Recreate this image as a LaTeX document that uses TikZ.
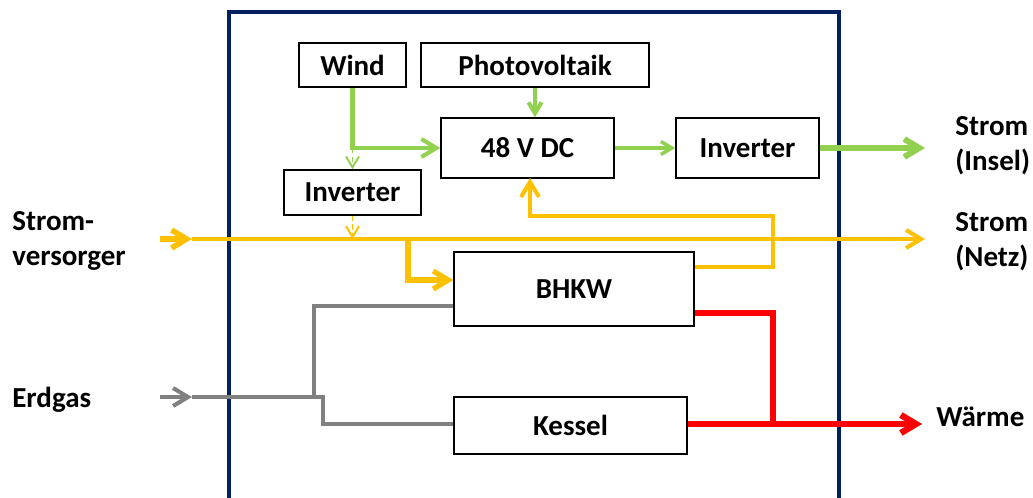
\documentclass[tikz,border=0pt]{standalone}
\usepackage{fontspec}
\setmainfont{Carlito}
\usetikzlibrary{arrows.meta}
\definecolor{frameblue}{RGB}{0,32,96}
\definecolor{elgreen}{RGB}{146,208,80}
\definecolor{elyellow}{RGB}{255,192,0}
\definecolor{heatred}{RGB}{255,0,0}
\definecolor{gasgray}{RGB}{128,128,128}

\begin{document}
\begin{tikzpicture}[x=0.02cm, y=-0.02cm,
    every node/.style={font=\fontsize{16.5}{20}\selectfont\bfseries},
    block/.style={draw=black, line width=0.8pt, inner sep=0pt, fill=white},
    label/.style={align=left, anchor=west, inner sep=0pt},
    barb/.style={-{Straight Barb[length=0.3cm, width=0.36cm]}},
    smallbarb/.style={-{Straight Barb[length=0.22cm, width=0.26cm]}},
    greenline/.style={elgreen, line width=2.3pt},
    yellowline/.style={elyellow, line width=2.3pt},
    grayline/.style={gasgray, line width=2.3pt},
  ]
    \useasboundingbox (0,0) rectangle (1033,497);
    % system boundary
    \draw[frameblue, line width=1.9pt] (229,500) -- (229,12) -- (839,12) -- (839,500);

    % blocks
    \node[block, minimum width=2.14cm, minimum height=0.88cm] (wind) at (352.5,65) {Wind};
    \node[block, minimum width=4.56cm, minimum height=0.88cm] (pv) at (535,65) {Photovoltaik};
    \node[block, minimum width=3.46cm, minimum height=1.2cm] (dc) at (527.5,148) {48 V DC};
    \node[block, minimum width=2.86cm, minimum height=1.2cm] (invdc) at (747.5,148) {Inverter};
    \node[block, minimum width=2.74cm, minimum height=0.9cm] (invwind) at (352.5,192.5) {Inverter};
    \node[block, minimum width=4.8cm, minimum height=1.48cm] (bhkw) at (574,289) {BHKW};
    \node[block, minimum width=4.66cm, minimum height=1.14cm] (kessel) at (570.5,425.5) {Kessel};

    % outside labels
    \node[label] (versorger) at (12,241) {Strom-\\versorger};
    \node[label] (erdgas) at (12,400) {Erdgas};
    \node[label] (insel) at (955,146) {Strom\\(Insel)};
    \node[label] (netz) at (955,242) {Strom\\(Netz)};
    \node[label] (waerme) at (936,417) {Wärme};

    \coordinate (windknee) at (352.5,148);
    \coordinate (inselend) at (925,148);
    \coordinate (netzstart) at (160,239);
    \coordinate (netzin) at (192,239);
    \coordinate (netzend) at (925,239);
    \coordinate (bhkwtap) at (408,239);
    \coordinate (gasstart) at (160,397);
    \coordinate (gasin) at (192,397);
    \coordinate (gassplit) at (323,397);
    \coordinate (waermeend) at (922,424);

    % electricity, green
    \draw[greenline, barb] (wind.south) -- (windknee) -- (dc.west);
    \draw[greenline, smallbarb, line width=1.1pt, dash pattern=on 3pt off 2pt] (windknee) -- (invwind.north);
    \draw[greenline, smallbarb] (pv.south) -- (pv.south |- dc.north);
    \draw[greenline, smallbarb, line width=2pt] (dc.east) -- (invdc.west);
    \draw[greenline, barb, line width=3.4pt] (invdc.east) -- (inselend);

    % electricity, yellow
    \draw[yellowline, barb, line width=3.2pt] (netzstart) -- (netzin);
    \draw[yellowline, barb] (netzin) -- (netzend);
    \draw[elyellow, smallbarb, line width=1.1pt, dash pattern=on 3pt off 2pt] (invwind.south) -- (invwind.south |- netzin);
    \draw[yellowline, barb, line width=3pt] (bhkwtap) |- (bhkw.west |- 0,280);
    \draw[yellowline, barb] (bhkw.east |- 0,267) -| (773,216) -| (530,178);

    % heat
    \draw[heatred, line width=3.2pt] (bhkw.east |- 0,313) -| (773,424);
    \draw[heatred, barb, line width=3.6pt] (kessel.east |- waermeend) -- (waermeend);

    % gas
    \draw[grayline, barb] (gasstart) -- (gasin);
    \draw[grayline] (gasin) -- (gassplit) |- (kessel.west |- 0,424);
    \draw[grayline] (314,397) |- (bhkw.west |- 0,306);
\end{tikzpicture}
\end{document}
